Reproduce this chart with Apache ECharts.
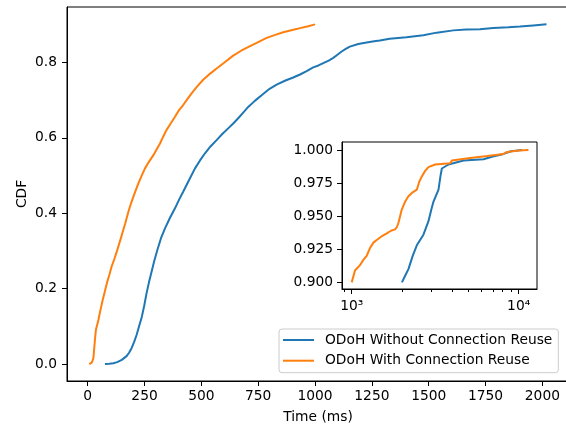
<!DOCTYPE html>
<html>
<head>
<meta charset="utf-8">
<script src="https://cdn.jsdelivr.net/npm/echarts@6/dist/echarts.min.js"></script>
<style>html,body{margin:0;padding:0;background:#fff;}#c{width:566px;height:425px;}</style>
</head>
<body>
<div id="c"></div>
<script>
// ---- data (time in ms, CDF) ----
const nameNoReuse = 'ODoH Without Connection Reuse';
const nameReuse = 'ODoH With Connection Reuse';

const blueMain = [[76,0],[95,0.001],[113,0.002],[130,0.005],[150,0.011],[171,0.021],[182,0.03],[193,0.042],[204,0.058],[215,0.077],[226,0.1],[238,0.125],[249,0.156],[259,0.188],[270,0.218],[281,0.245],[293,0.274],[306,0.302],[322,0.333],[340,0.36],[362,0.388],[384,0.413],[402,0.436],[420,0.457],[446,0.488],[472,0.519],[494,0.54],[516,0.559],[540,0.577],[567,0.594],[592,0.61],[618,0.625],[640,0.638],[662,0.652],[684,0.667],[706,0.682],[735,0.698],[765,0.713],[800,0.73],[831,0.741],[870,0.752],[904,0.76],[934,0.768],[963,0.777],[992,0.787],[1015,0.792],[1036,0.798],[1060,0.805],[1080,0.812],[1100,0.821],[1117,0.829],[1135,0.836],[1153,0.842],[1190,0.849],[1227,0.853],[1260,0.856],[1285,0.858],[1328,0.863],[1402,0.867],[1476,0.872],[1535,0.879],[1608,0.885],[1665,0.887],[1725,0.888],[1784,0.891],[1850,0.893],[1901,0.895],[1960,0.898],[2018,0.901]];

const orangeMain = [[7,0],[12,0.002],[18,0.004],[22,0.007],[25,0.015],[28,0.037],[32,0.065],[36,0.09],[47,0.117],[56,0.143],[66,0.17],[76,0.194],[86,0.218],[96,0.238],[105,0.258],[118,0.28],[130,0.302],[150,0.342],[165,0.373],[179,0.404],[190,0.425],[201,0.444],[212,0.462],[223,0.479],[237,0.499],[252,0.519],[270,0.537],[289,0.554],[303,0.569],[318,0.585],[332,0.603],[347,0.621],[365,0.638],[384,0.656],[400,0.672],[420,0.687],[440,0.704],[457,0.718],[480,0.735],[508,0.754],[540,0.771],[567,0.784],[600,0.799],[640,0.818],[675,0.831],[714,0.843],[750,0.854],[787,0.865],[825,0.873],[860,0.880],[900,0.886],[934,0.891],[970,0.896],[1000,0.901]];

const blueTail = [[2000,0.9],[2090,0.905],[2187,0.91],[2320,0.92],[2455,0.928],[2690,0.936],[2880,0.946],[3000,0.955],[3090,0.961],[3311,0.97],[3400,0.98],[3467,0.986],[3800,0.989],[4680,0.992],[6166,0.993],[7000,0.995],[8130,0.997],[9000,0.999],[10500,1.0]];

const orangeTail = [[1000,0.9],[1047,0.909],[1121,0.913],[1174,0.917],[1230,0.92],[1288,0.926],[1350,0.93],[1413,0.932],[1520,0.935],[1622,0.937],[1720,0.939],[1820,0.94],[1870,0.942],[1906,0.945],[1950,0.95],[1995,0.955],[2090,0.961],[2187,0.965],[2320,0.968],[2455,0.97],[2540,0.976],[2630,0.98],[2750,0.984],[2880,0.987],[3162,0.989],[3890,0.990],[3981,0.992],[5130,0.994],[6500,0.9955],[8130,0.997],[8530,0.9985],[10000,0.9995],[11450,1.0]];

const mainXTicks = [0,250,500,750,1000,1250,1500,1750,2000];
const mainYTicks = [0,0.2,0.4,0.6,0.8];
const insetYTicks = [0.9,0.925,0.95,0.975,1.0];
const insetXMajor = [1000,10000];
const insetXMinor = [900,2000,3000,4000,5000,6000,7000,8000,9000];

// ---- chart ----
const FONT = 'DejaVu Sans';
const FS = 13.8;
const BLUE = '#1f77b4', ORANGE = '#ff7f0e';
const txt = {color:'#000', fontFamily:FONT, fontSize:FS};
const line = {show:true, onZero:false, lineStyle:{color:'#000', width:1}};
const tick = (vals, len) => ({show:true, inside:false, length:len, lineStyle:{color:'#000', width:1}, customValues:vals});
const sup = {3:'\u00b3', 4:'\u2074'};

const chart = echarts.init(document.getElementById('c'), null, {renderer:'canvas'});
chart.setOption({
  animation:false,
  backgroundColor:'#fff',
  textStyle:{fontFamily:FONT},
  grid:[
    {left:67, top:7, width:502, height:374, show:true, borderColor:'#000', borderWidth:1, backgroundColor:'transparent', containLabel:false, outerBoundsMode:'none'},
    {left:342, top:142, width:195, height:147, show:true, borderColor:'#000', borderWidth:1, backgroundColor:'#fff', containLabel:false, outerBoundsMode:'none'}
  ],
  xAxis:[
    {type:'value', gridIndex:0, position:'bottom', min:-91, max:2117, axisLine:line, axisTick:tick(mainXTicks,5),
     axisLabel:Object.assign({margin:8, customValues:mainXTicks, formatter:v=>String(v)}, txt),
     splitLine:{show:false}, name:'Time (ms)', nameLocation:'middle', nameGap:29, nameMoveOverlap:false, nameTextStyle:txt},
    {type:'log', gridIndex:1, position:'bottom', min:875, max:12880, axisLine:line, axisTick:tick(insetXMajor,5),
     axisLabel:Object.assign({margin:10, customValues:insetXMajor,
       formatter:v=>'10'+sup[Math.round(Math.log10(v))]}, txt),
     splitLine:{show:false}},
    {type:'log', gridIndex:1, position:'bottom', offset:0, min:875, max:12880, axisLine:{show:false, onZero:false}, axisTick:tick(insetXMinor,3),
     axisLabel:{show:false}, splitLine:{show:false}}
  ],
  yAxis:[
    {type:'value', gridIndex:0, position:'left', min:-0.045, max:0.947, axisLine:line, axisTick:tick(mainYTicks,5),
     axisLabel:Object.assign({margin:10, customValues:mainYTicks, formatter:v=>v.toFixed(1)}, txt),
     splitLine:{show:false}, name:'CDF', nameLocation:'middle', nameGap:38, nameMoveOverlap:false, nameTextStyle:txt},
    {type:'value', gridIndex:1, position:'left', min:0.895, max:1.006, axisLine:line, axisTick:tick(insetYTicks,5),
     axisLabel:Object.assign({margin:9, customValues:insetYTicks, formatter:v=>v.toFixed(3)}, txt),
     splitLine:{show:false}}
  ],
  legend:{
    orient:'vertical', left:279, top:329, padding:[4,6,5,4],
    data:[nameNoReuse, nameReuse], icon:'rect', itemWidth:31, itemHeight:2, itemGap:6.7,
    textStyle:Object.assign({padding:[0,0,0,6], lineHeight:14}, txt),
    backgroundColor:'rgba(255,255,255,0.8)', borderColor:'#cccccc', borderWidth:1, borderRadius:3
  },
  series:[
    {name:nameNoReuse, type:'line', xAxisIndex:0, yAxisIndex:0, data:blueMain, symbol:'none', color:BLUE, lineStyle:{width:2, color:BLUE}},
    {name:nameReuse, type:'line', xAxisIndex:0, yAxisIndex:0, data:orangeMain, symbol:'none', color:ORANGE, lineStyle:{width:2, color:ORANGE}},
    {name:nameNoReuse, type:'line', xAxisIndex:1, yAxisIndex:1, data:blueTail, symbol:'none', color:BLUE, lineStyle:{width:2, color:BLUE}, clip:true},
    {name:nameReuse, type:'line', xAxisIndex:1, yAxisIndex:1, data:orangeTail, symbol:'none', color:ORANGE, lineStyle:{width:2, color:ORANGE}, clip:true}
  ]
});
</script>
</body>
</html>
